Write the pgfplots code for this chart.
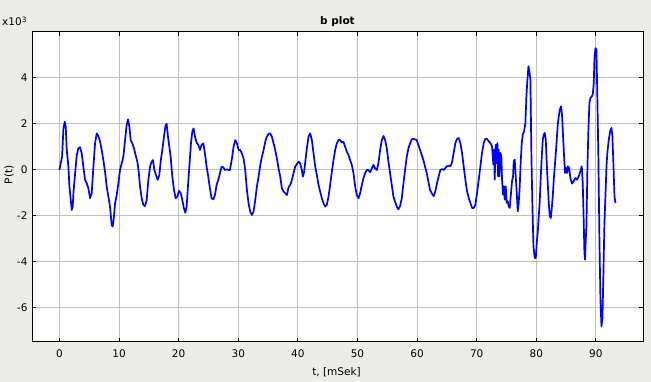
\documentclass[border=0pt]{standalone}
\usepackage{pgfplots}
\pgfplotsset{compat=1.18}
\usepackage{fontspec}
\setmainfont{DejaVu Sans}
\definecolor{bggray}{RGB}{236,236,233}
\definecolor{gridgray}{RGB}{192,192,192}
\newcommand{\lblfont}{\fontsize{10.5}{12.5}\selectfont}
\begin{document}
\begin{tikzpicture}[x=1pt,y=1pt]
\fill[bggray] (0,0) rectangle (651,382);
\begin{axis}[
  at={(32pt,40pt)}, anchor=south west,
  scale only axis, width=611pt, height=310pt,
  xmin=-4.6, xmax=97.9, ymin=-7.48, ymax=6.0,
  xtick={0,10,...,90}, ytick={-6,-4,...,4},
  grid=major, major grid style={gridgray, line width=1pt},
  tick align=inside, tick style={black, line width=1pt},
  major tick length=4pt,
  axis line style={black, line width=1pt},
  axis background/.style={fill=white},
  tick label style={font=\lblfont},
  /pgf/number format/assume math mode=true,
  xticklabel style={yshift=-4pt},
  yticklabel style={xshift=-1pt},
]
\addplot[blue, line width=1.7pt, line join=round] coordinates {
(0,0) (0.22,0.3) (0.45,0.58) (0.67,1.8) (0.89,2.1) (1.06,1.88) (1.23,0.87) (1.51,0.14) (1.68,-0.72) (1.90,-1.3) (2.07,-1.74) (2.23,-1.6) (2.35,-1.0) (2.63,-0.15) (2.91,0.65) (3.18,0.94) (3.46,0.99) (3.74,0.72) (4.02,0.14) (4.30,-0.43) (4.58,-0.58) (4.86,-0.8) (5.14,-1.23) (5.42,-1.0) (5.70,0.14) (5.98,1.16) (6.26,1.59) (6.54,1.48) (6.82,1.23) (7.09,0.87) (7.37,0.43) (7.65,-0.07) (7.93,-0.72) (8.21,-1.16) (8.49,-1.6) (8.77,-2.4) (8.94,-2.46) (9.16,-2.0) (9.33,-1.45) (9.61,-1.09) (9.89,-0.58) (10.17,0) (10.45,0.29) (10.73,0.58) (11.01,1.3) (11.28,1.96) (11.51,2.2) (11.73,1.88) (11.96,1.3) (12.23,1.16) (12.51,0.94) (12.85,0.58) (13.07,0.36) (13.30,-0.07) (13.52,-0.72) (13.80,-1.23) (14.08,-1.52) (14.36,-1.57) (14.64,-1.3) (14.92,-0.43) (15.20,0.14) (15.47,0.36) (15.70,0.43) (15.92,0) (16.20,-0.22) (16.48,-0.43) (16.76,-0.22) (16.98,0.36) (17.26,0.87) (17.54,1.45) (17.82,1.96) (17.99,2.0) (18.21,1.45) (18.44,1.01) (18.66,0.58) (18.94,-0.29) (19.22,-0.87) (19.50,-1.23) (19.78,-1.16) (20.06,-0.9) (20.34,-1.0) (20.61,-1.3) (20.89,-1.67) (21.12,-1.86) (21.34,-1.6) (21.56,-0.72) (21.79,0.14) (22.07,1.16) (22.29,1.67) (22.51,1.81) (22.74,1.45) (23.02,1.19) (23.30,1.09) (23.58,0.87) (23.85,1.09) (24.13,1.16) (24.41,0.72) (24.69,0.14) (24.97,-0.29) (25.25,-0.8) (25.53,-1.23) (25.81,-1.28) (26.09,-1.09) (26.37,-0.65) (26.65,-0.43) (26.93,-0.14) (27.21,0.14) (27.49,0.12) (27.77,0) (28.04,0.03) (28.32,0) (28.60,0)
(28.94,0.5) (29.22,1.01) (29.50,1.3) (29.78,1.16) (30.06,0.87) (30.34,0.87) (30.61,0.72) (30.89,0.5) (31.17,0) (31.45,-0.87) (31.73,-1.45) (32.01,-1.81) (32.29,-1.96) (32.57,-1.81) (32.85,-1.3) (33.13,-0.72) (33.41,-0.29) (33.69,0.22) (33.97,0.58) (34.25,0.87) (34.53,1.23) (34.80,1.45) (35.08,1.57) (35.36,1.59) (35.64,1.45) (35.92,1.16) (36.20,0.87) (36.48,0.5) (36.76,0.07) (37.04,-0.29) (37.32,-0.8) (37.60,-0.94) (37.88,-1.01) (38.16,-1.09) (38.44,-0.75) (38.72,-0.65) (39.00,-0.43) (39.27,-0.14) (39.55,0.14) (39.83,0.26) (40.11,0.36) (40.39,0.29) (40.67,0) (40.84,-0.29) (41.06,-0.07) (41.28,0.43) (41.51,0.94) (41.79,1.45) (42.07,1.59) (42.35,1.3) (42.63,0.72) (42.91,0.14) (43.18,-0.22) (43.46,-0.65) (43.74,-0.94) (44.02,-1.23) (44.30,-1.45) (44.58,-1.59) (44.86,-1.52) (45.14,-1.16) (45.42,-0.65) (45.70,-0.07) (45.98,0.43) (46.26,0.87) (46.54,1.16) (46.82,1.3) (47.09,1.3) (47.37,1.19) (47.65,1.23) (47.93,1.01) (48.21,0.8) (48.49,0.65) (48.77,0.43) (49.05,0.22) (49.33,-0.14) (49.61,-0.72) (49.89,-1.09) (50.17,-1.23) (50.45,-1.01) (50.73,-0.65) (51.01,-0.36) (51.28,-0.14) (51.56,0) (51.84,0) (52.12,-0.1) (52.40,0.07) (52.68,0.22) (52.96,0.07) (53.24,0) (53.52,0.29) (53.80,0.87) (54.08,1.3) (54.36,1.48) (54.64,1.3) (54.92,0.94) (55.20,0.36) (55.47,-0.14) (55.75,-0.65) (56.03,-1.16) (56.31,-1.38) (56.59,-1.59) (56.87,-1.71) (57.15,-1.57) (57.43,-1.23) (57.71,-0.58) (57.99,0) (58.27,0.58) (58.55,0.94) (58.83,1.16) (59.11,1.33) (59.39,1.35) (59.66,1.33) (59.94,1.3) (60.22,1.09) (60.50,0.87) (60.78,0.65) (61.06,0.43) (61.34,0.14) (61.62,-0.14) (61.90,-0.51) (62.18,-0.87)
(62.50,-1.03) (62.78,-1.14) (63.06,-0.93) (63.34,-0.57) (63.62,-0.28) (63.90,0) (64.18,0.04) (64.46,0) (64.74,0.09) (65.02,0.16) (65.30,0.19) (65.58,0.16) (65.86,0.33) (66.14,0.74) (66.42,1.17) (66.70,1.35) (66.98,1.39) (67.26,1.17) (67.54,0.74) (67.82,0.16) (68.10,-0.42) (68.38,-0.93) (68.66,-1.22) (68.94,-1.43) (69.22,-1.65) (69.50,-1.65) (69.78,-1.51) (70.06,-1.0) (70.34,-0.42) (70.62,0.16) (70.89,0.74) (71.18,1.17) (71.46,1.36) (71.73,1.35) (72.01,1.25) (72.29,1.17) (72.57,1.03) (72.80,0.23) (72.91,0.88) (73.02,-0.42) (73.19,1.1) (73.36,0.3) (73.47,1.17) (73.58,-0.28) (73.69,0.88) (73.81,-0.28) (73.97,0.74) (74.14,0.59) (74.25,-0.42) (74.42,-1.07) (74.53,-0.71) (74.70,-1.29) (74.87,-0.71) (75.04,-1.43) (75.20,-1.36) (75.37,-1.58) (75.54,-1.65) (75.71,-1.14) (75.93,-0.49) (76.10,-0.28) (76.21,0.38) (76.38,0.45) (76.55,-0.28) (76.72,-1.0) (76.89,-1.8) (77.05,-1.43) (77.22,-0.71) (77.39,0.38) (77.56,1.17) (77.73,1.54) (77.95,1.68) (78.17,2.04) (78.34,3.2) (78.51,3.93) (78.68,4.51) (78.84,4.29) (79.01,3.93) (79.18,0.59) (79.35,-1.58) (79.52,-3.32) (79.74,-3.83) (79.91,-3.83) (80.08,-3.17) (80.25,-2.67) (80.41,-2.01) (80.58,-1.36) (80.75,-0.28) (80.92,0.59) (81.09,1.32) (81.25,1.54) (81.42,1.61) (81.59,1.32) (81.75,0.3) (81.92,-0.57) (82.09,-1.43) (82.26,-2.01) (82.43,-2.09) (82.60,-1.65) (82.76,-1.14) (82.93,-0.42) (83.10,0.16) (83.27,0.74) (83.43,1.32) (83.60,1.97) (83.77,2.33) (83.94,2.62) (84.16,2.77) (84.33,2.33) (84.49,1.46) (84.66,0.59) (84.83,-0.13) (85.00,0.09) (85.17,-0.13) (85.33,0.16) (85.50,0.09) (85.72,-0.35) (86.00,-0.59) (86.28,-0.49) (86.56,-0.35) (86.84,-0.42) (87.11,-0.28) (87.39,-0.06) (87.63,0.16) (87.79,-0.57) (87.96,-2.3) (88.07,-3.61) (88.18,-3.9) (88.30,-3.03) (88.41,-2.45) (88.58,0.16) (88.74,1.75) (88.91,2.91) (89.08,3.13) (89.31,3.2) (89.47,3.28) (89.64,3.78) (89.75,4.8) (89.92,5.3) (90.09,5.23) (90.26,2.91) (90.42,0.45) (90.59,-3.03) (90.76,-5.64) (90.93,-6.8) (91.10,-6.43) (91.26,-4.48) (91.43,-2.3) (91.60,-1.14) (91.77,0.16) (91.94,0.81) (92.16,1.32) (92.38,1.68) (92.61,1.83) (92.77,1.46) (92.94,0.23) (93.11,-1.14) (93.28,-1.43)
};
\end{axis}
\node[font=\lblfont\bfseries] at (337.5,360) {b plot};
\node[font=\lblfont, anchor=base west, inner sep=0pt] at (2,356) {x10\textsuperscript{3}};
\node[font=\lblfont, rotate=90] at (9,207) {P(t)};
\node[font=\lblfont] at (336.5,10) {t, [mSek]};
\pgfresetboundingbox
\useasboundingbox (0,0) rectangle (651,382);
\end{tikzpicture}
\end{document}
